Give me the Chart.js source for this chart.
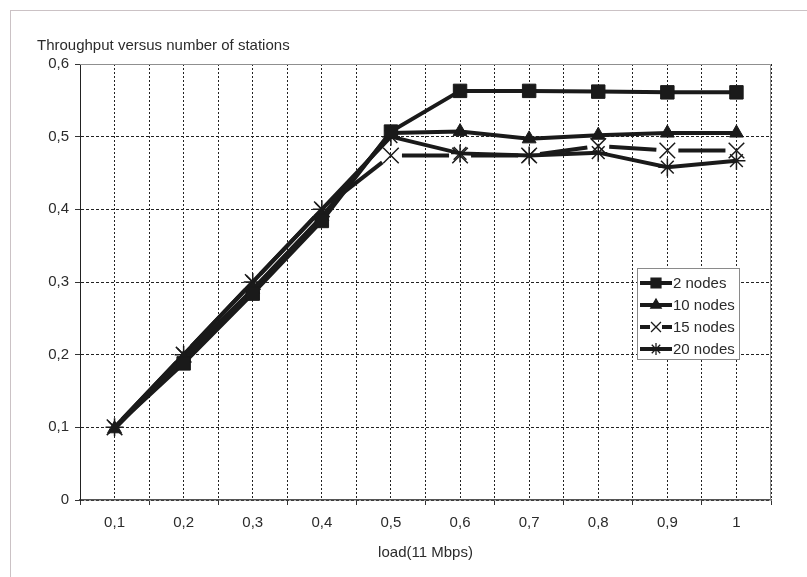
<!DOCTYPE html>
<html>
<head>
<meta charset="utf-8">
<script src="https://cdn.jsdelivr.net/npm/chart.js@4.4.1/dist/chart.umd.min.js"></script>
<style>
  html, body { margin: 0; padding: 0; background: #fff; overflow: hidden; }
  #frame { position: absolute; left: 10px; top: 10px; width: 840px; height: 620px; border: 1px solid #cbc2c5; }
  #chart { position: absolute; left: 0; top: 0; }
</style>
</head>
<body>
<div id="frame"></div>
<canvas id="chart" width="807" height="577"></canvas>
<script>
// load in units of 11 Mbps
const loads = [0.1, 0.2, 0.3, 0.4, 0.5, 0.6, 0.7, 0.8, 0.9, 1];
const nodes2 = [0.1, 0.188, 0.284, 0.384, 0.507, 0.563, 0.563, 0.562, 0.561, 0.561];
const nodes10 = [0.098, 0.195, 0.29, 0.39, 0.505, 0.507, 0.497, 0.502, 0.505, 0.505];
const nodes15 = [0.1, 0.2, 0.3, 0.4, 0.474, 0.474, 0.474, 0.487, 0.481, 0.481];
const nodes20 = [0.1, 0.2, 0.3, 0.4, 0.5, 0.477, 0.474, 0.478, 0.458, 0.467];
const seriesNames = ["2 nodes", "10 nodes", "15 nodes", "20 nodes"];
const yTickValues = [0, 0.1, 0.2, 0.3, 0.4, 0.5, 0.6];

const ink = "#1a1a1a";
const textColor = "#2b2b2b";
Chart.defaults.font.family = "'Liberation Sans', Arial, sans-serif";
Chart.defaults.font.size = 15;
Chart.defaults.color = textColor;

const toPoints = (values) => loads.map((x, i) => ({ x, y: values[i] }));
const commaNum = (v) => String(Math.round(v * 10) / 10).replace(".", ",");
const isLoadTick = (v) => Math.abs(v * 10 - Math.round(v * 10)) < 1e-6;

// dash that leaves a gap around every marker, like the original
function gapDash(ctx) {
  const len = Math.hypot(ctx.p1.x - ctx.p0.x, ctx.p1.y - ctx.p0.y);
  return [Math.max(len - 22, 0), 22];
}

const datasets = [
  {
    label: seriesNames[0],
    data: toPoints(nodes2),
    pointStyle: "rect",
    pointRadius: nodes2.map((_, i) => (i === 0 ? 0 : 9.5)),
    pointBackgroundColor: ink,
    legendRadius: 7,
  },
  {
    label: seriesNames[1],
    data: toPoints(nodes10),
    pointStyle: "triangle",
    pointRadius: 8,
    pointBackgroundColor: ink,
    legendRadius: 6,
  },
  {
    label: seriesNames[2],
    data: toPoints(nodes15),
    pointStyle: "crossRot",
    pointRadius: 11,
    pointBorderWidth: 1.5,
    segment: { borderDash: gapDash, borderDashOffset: -11 },
    legendRadius: 7,
  },
  {
    label: seriesNames[3],
    data: toPoints(nodes20),
    pointStyle: "star",
    pointRadius: 9,
    pointBorderWidth: 1.5,
    legendRadius: 6,
  },
].map((ds) => ({
  borderColor: ink,
  backgroundColor: ink,
  pointBorderColor: ink,
  borderWidth: 4,
  tension: 0,
  pointBorderWidth: 1,
  ...ds,
}));

const boxLegend = {
  id: "boxLegend",
  afterDraw(chart) {
    const { ctx, chartArea } = chart;
    const bx = chartArea.right - 134;
    const by = chartArea.top + 204;
    const bw = 102;
    const bh = 91;
    ctx.save();
    ctx.fillStyle = "#fff";
    ctx.fillRect(bx, by, bw, bh);
    ctx.strokeStyle = "#8a8a8a";
    ctx.lineWidth = 1;
    ctx.strokeRect(bx + 0.5, by + 0.5, bw, bh);
    chart.data.datasets.forEach((ds, i) => {
      const y = by + 15 + i * 22;
      const x0 = bx + 3;
      const x1 = bx + 35;
      const mid = (x0 + x1) / 2;
      ctx.strokeStyle = ink;
      ctx.lineWidth = 4;
      ctx.beginPath();
      if (ds.segment) {
        ctx.moveTo(x0, y); ctx.lineTo(mid - 6, y);
        ctx.moveTo(mid + 6, y); ctx.lineTo(x1, y);
      } else {
        ctx.moveTo(x0, y); ctx.lineTo(x1, y);
      }
      ctx.stroke();
      ctx.fillStyle = ink;
      ctx.strokeStyle = ink;
      ctx.lineWidth = 1.3;
      Chart.helpers.drawPoint(ctx, {
        pointStyle: ds.pointStyle,
        radius: ds.legendRadius,
        borderWidth: 1.3,
        rotation: 0,
      }, mid, y);
      ctx.fillStyle = textColor;
      ctx.font = "15px 'Liberation Sans', Arial, sans-serif";
      ctx.textBaseline = "middle";
      ctx.fillText(ds.label, bx + 36, y + 1);
    });
    ctx.restore();
  },
};

const plotFrame = {
  id: "plotFrame",
  beforeDatasetsDraw(chart) {
    const { ctx, chartArea } = chart;
    ctx.save();
    ctx.strokeStyle = "#8f8f8f";
    ctx.lineWidth = 1;
    ctx.beginPath();
    ctx.moveTo(chartArea.left, chartArea.top + 0.5);
    ctx.lineTo(chartArea.right - 0.5, chartArea.top + 0.5);
    ctx.lineTo(chartArea.right - 0.5, chartArea.bottom);
    ctx.stroke();
    ctx.restore();
  },
};

new Chart(document.getElementById("chart"), {
  type: "line",
  data: { datasets },
  options: {
    responsive: false,
    animation: false,
    layout: { padding: { left: 37, right: 36, top: 0, bottom: 0 } },
    plugins: {
      legend: { display: false },
      tooltip: { enabled: false },
      title: {
        display: true,
        text: "Throughput versus number of stations",
        align: "start",
        color: textColor,
        font: { size: 15, weight: "normal" },
        padding: { top: 37, bottom: 9 },
      },
    },
    scales: {
      x: {
        type: "linear",
        min: 0.05,
        max: 1.05,
        afterFit: (s) => { s.height = 77; },
        ticks: {
          stepSize: 0.05,
          autoSkip: false,
          maxRotation: 0,
          padding: 9,
          color: textColor,
          callback: (v) => (isLoadTick(v) ? commaNum(v) : ""),
        },
        grid: {
          color: "#222",
          lineWidth: 1,
          tickLength: 5,
          tickColor: (c) => (c.index % 2 === 0 ? "#333" : "rgba(0,0,0,0)"),
        },
        border: { color: "#555", width: 1.5, dash: [2, 2] },
        title: {
          display: true,
          text: "load(11 Mbps)",
          color: textColor,
          font: { size: 15 },
          padding: { top: 0, bottom: 15 },
        },
      },
      y: {
        min: 0,
        max: 0.6,
        afterFit: (s) => { s.width = 43; },
        afterBuildTicks: (s) => { s.ticks = yTickValues.map((value) => ({ value })); },
        ticks: {
          padding: 6,
          color: textColor,
          callback: (v) => commaNum(v),
        },
        grid: { color: "#222", lineWidth: 1, tickLength: 5, tickColor: "#333" },
        border: { color: "#222", width: 1, dash: [3, 2] },
      },
    },
  },
  plugins: [plotFrame, boxLegend],
});
</script>
</body>
</html>
